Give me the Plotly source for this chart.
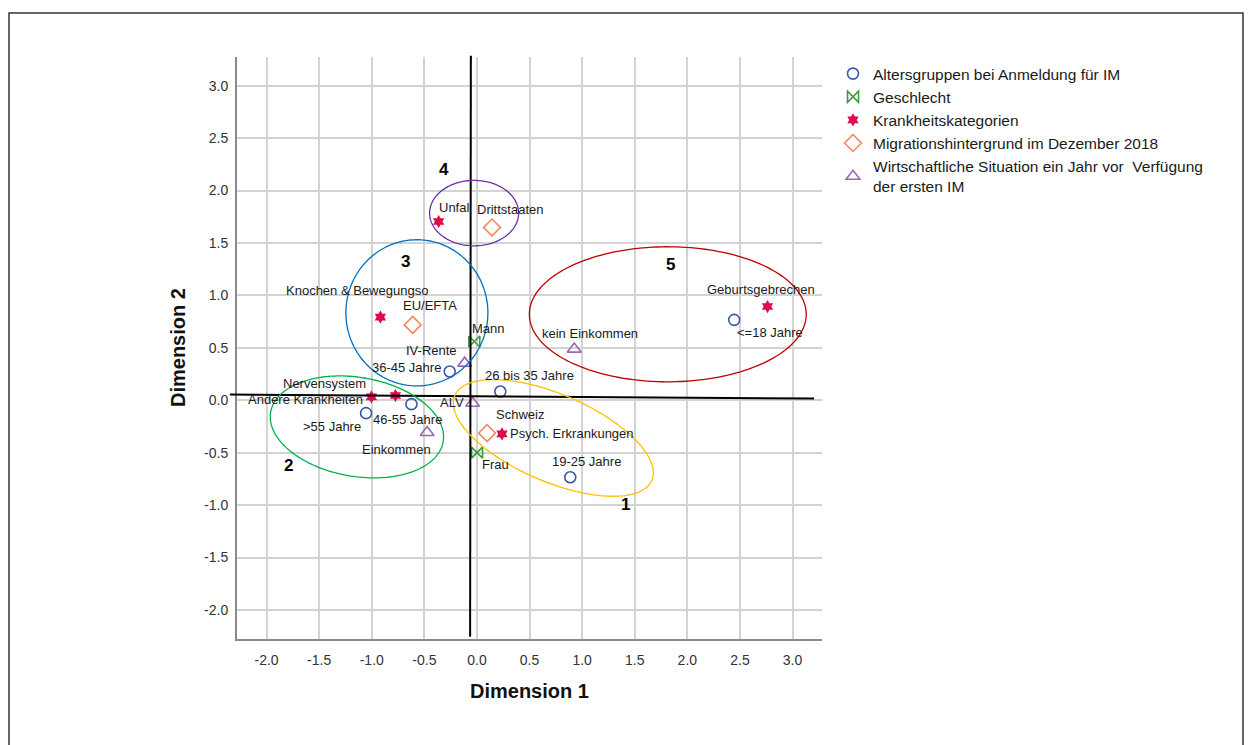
import numpy as np
import plotly.graph_objects as go

FONT = "Liberation Sans, Arial, sans-serif"

# ---------------- data ----------------
alters_labels = ["<=18 Jahre", "19-25 Jahre", "26 bis 35 Jahre", "36-45 Jahre", "46-55 Jahre", ">55 Jahre"]
alters_dim1 = [2.445, 0.887, 0.222, -0.259, -0.623, -1.054]
alters_dim2 = [0.767, -0.734, 0.083, 0.274, -0.037, -0.123]

geschlecht_labels = ["Mann", "Frau"]
geschlecht_dim1 = [-0.025, 0.001]
geschlecht_dim2 = [0.560, -0.499]

krank_labels = ["Geburtsgebrechen", "Unfal", "Knochen & Bewegungso", "Nervensystem",
                "Andere Krankheiten", "Psych. Erkrankungen"]
krank_dim1 = [2.762, -0.364, -0.918, -0.775, -1.003, 0.238]
krank_dim2 = [0.894, 1.705, 0.793, 0.045, 0.032, -0.321]

migration_labels = ["Drittstaaten", "EU/EFTA", "Schweiz"]
migration_dim1 = [0.143, -0.611, 0.096]
migration_dim2 = [1.648, 0.719, -0.314]

wirtschaft_labels = ["kein Einkommen", "IV-Rente", "ALV", "Einkommen"]
wirtschaft_dim1 = [0.925, -0.117, -0.041, -0.474]
wirtschaft_dim2 = [0.488, 0.354, -0.028, -0.308]

legend_names = [
    "Altersgruppen bei Anmeldung für IM",
    "Geschlecht",
    "Krankheitskategorien",
    "Migrationshintergrund im Dezember 2018",
    "Wirtschaftliche Situation ein Jahr vor  Verfügung<br>der ersten IM",
]

tick_values = [-2.0, -1.5, -1.0, -0.5, 0.0, 0.5, 1.0, 1.5, 2.0, 2.5, 3.0]
tick_labels = ["-2.0", "-1.5", "-1.0", "-0.5", "0.0", "0.5", "1.0", "1.5", "2.0", "2.5", "3.0"]

# cluster ellipses (data units): label, centre, radii, rotation
cluster_names = ["1", "2", "3", "4", "5"]
cluster_cx = [0.726, -1.141, -0.571, -0.027, 1.814]
cluster_cy = [-0.359, -0.254, 0.834, 1.785, 0.820]
cluster_rx = [1.020, 0.832, 0.675, 0.423, 1.316]
cluster_ry = [0.416, 0.472, 0.697, 0.312, 0.644]
cluster_angle = [-23.4, -9.8, 0.0, 0.0, 0.0]
cluster_label_x = [1.415, -1.789, -0.680, -0.316, 1.844]
cluster_label_y = [-0.998, -0.626, 1.321, 2.198, 1.292]

# ---------------- styling ----------------
X_RANGE = [-2.281, 3.28]
Y_RANGE = [-2.277, 3.274]
OFF = 8  # page body margin
W, H = 1252 - OFF, 745 - OFF
ML, MT = 237 - OFF, 57 - OFF
MR = W - (822 - OFF)
MB = H - (639 - OFF)
PW, PH = W - ML - MR, H - MT - MB

cluster_colors = ["#FFC000", "#00B050", "#0070C0", "#7030A0", "#C00000"]

# label offsets in pixels (dx right, dy down)
label_offsets = {
    "<=18 Jahre": (36, 13), "19-25 Jahre": (16, -16), "26 bis 35 Jahre": (29, -16),
    "36-45 Jahre": (-43, -4), "46-55 Jahre": (-4, 15), ">55 Jahre": (-34, 13),
    "Mann": (14, -13), "Frau": (18, 12),
    "Geburtsgebrechen": (-7, -17), "Unfal": (15, -14), "Knochen & Bewegungso": (-23, -27),
    "Nervensystem": (-71, -12), "Andere Krankheiten": (-66, 3), "Psych. Erkrankungen": (70, 0),
    "Drittstaaten": (18, -18), "EU/EFTA": (17, -19), "Schweiz": (33, -19),
    "kein Einkommen": (16, -16), "IV-Rente": (-33, -13), "ALV": (-21, -1), "Einkommen": (-31, 17),
}

series = [
    (alters_labels, alters_dim1, alters_dim2, dict(symbol="circle-open", size=11, color="#3B58A8", line=dict(width=1.6))),
    (geschlecht_labels, geschlecht_dim1, geschlecht_dim2, dict(symbol="bowtie-open", size=11, color="#3A9A3A", line=dict(width=1.6))),
    (krank_labels, krank_dim1, krank_dim2, dict(symbol="hexagram", size=10, color="#DE0B4F", line=dict(width=0))),
    (migration_labels, migration_dim1, migration_dim2, dict(symbol="diamond-open", size=13, color="#F4885C", line=dict(width=1.6))),
    (wirtschaft_labels, wirtschaft_dim1, wirtschaft_dim2, dict(symbol="triangle-up-open", size=12, color="#9A68B8", line=dict(width=1.6))),
]


def px_to_paper(px, py):
    """screen pixel -> paper coordinates"""
    fx, fy = px - OFF, py - OFF
    return (fx - ML) / PW, (MT + PH - fy) / PH


def data_to_paper(x, y):
    return ((x - X_RANGE[0]) / (X_RANGE[1] - X_RANGE[0]),
            (y - Y_RANGE[0]) / (Y_RANGE[1] - Y_RANGE[0]))


def ellipse_path(cx, cy, rx, ry, ang, n=180):
    t = np.linspace(0, 2 * np.pi, n)
    a = np.radians(ang)
    xs = cx + rx * np.cos(t) * np.cos(a) - ry * np.sin(t) * np.sin(a)
    ys = cy + rx * np.cos(t) * np.sin(a) + ry * np.sin(t) * np.cos(a)
    pts = [f"{x:.4f},{y:.4f}" for x, y in zip(xs, ys)]
    return "M " + " L ".join(pts) + " Z"


fig = go.Figure()
annotations = []
for (labels, xs, ys, marker), name in zip(series, legend_names):
    fig.add_trace(go.Scatter(x=xs, y=ys, mode="markers", name=name, marker=marker,
                             hovertext=labels, hoverinfo="text"))
    for lab, x, y in zip(labels, xs, ys):
        dx, dy = label_offsets[lab]
        annotations.append(dict(x=x, y=y, xref="x", yref="y", text=lab, showarrow=False,
                                xanchor="center", yanchor="middle",
                                xshift=dx, yshift=-dy, font=dict(family=FONT, size=13, color="#1a1a1a")))

shapes = []
# reference lines through the origin (hand drawn, slightly off)
hx0, hy0 = data_to_paper(-2.349, 0.054)
hx1, hy1 = data_to_paper(3.205, 0.016)
shapes.append(dict(type="line", xref="paper", yref="paper", x0=hx0, y0=hy0, x1=hx1, y1=hy1,
                   line=dict(color="black", width=2), layer="above"))
vx0, vy0 = data_to_paper(-0.058, 3.286)
vx1, vy1 = data_to_paper(-0.065, -2.255)
shapes.append(dict(type="line", xref="paper", yref="paper", x0=vx0, y0=vy0, x1=vx1, y1=vy1,
                   line=dict(color="black", width=2), layer="above"))

for name, cx, cy, rx, ry, ang, col, lx, ly in zip(cluster_names, cluster_cx, cluster_cy, cluster_rx,
                                                  cluster_ry, cluster_angle, cluster_colors,
                                                  cluster_label_x, cluster_label_y):
    shapes.append(dict(type="path", xref="x", yref="y", path=ellipse_path(cx, cy, rx, ry, ang),
                       line=dict(color=col, width=1.3), layer="above"))
    annotations.append(dict(x=lx, y=ly, xref="x", yref="y", text=f"<b>{name}</b>", showarrow=False,
                            xanchor="center", yanchor="middle",
                            font=dict(family=FONT, size=17, color="black")))

# outer frame
fx0, fy1 = px_to_paper(9, 13)
fx1, fy0 = px_to_paper(1243, 770)
shapes.append(dict(type="rect", xref="paper", yref="paper", x0=fx0, y0=fy0, x1=fx1, y1=fy1,
                   line=dict(color="#333333", width=1.5), layer="above"))

# axis titles
_, ty = px_to_paper(0, 691)
annotations.append(dict(x=0.5, y=ty, xref="paper", yref="paper", text="<b>Dimension 1</b>",
                        xanchor="center", yanchor="middle",
                        showarrow=False, font=dict(family=FONT, size=20, color="#111111")))
tx, _ = px_to_paper(178, 0)
annotations.append(dict(x=tx, y=0.5, xref="paper", yref="paper", text="<b>Dimension 2</b>",
                        xanchor="center", yanchor="middle",
                        textangle=-90, showarrow=False, font=dict(family=FONT, size=20, color="#111111")))

lx, ly = px_to_paper(833, 57)

axis_common = dict(showgrid=True, gridcolor="#d3d3d3", gridwidth=1.6, zeroline=False,
                   showline=True, linecolor="#8a8a8a", linewidth=2, ticks="",
                   tickmode="array", tickvals=tick_values, ticktext=tick_labels,
                   tickfont=dict(family=FONT, size=14, color="#333333"), fixedrange=True)

fig.update_layout(
    width=W, height=H,
    margin=dict(l=ML, r=MR, t=MT, b=MB, autoexpand=False),
    paper_bgcolor="white", plot_bgcolor="white",
    xaxis=dict(range=X_RANGE, ticklabelstandoff=7, **axis_common),
    yaxis=dict(range=Y_RANGE, ticklabelstandoff=4, **axis_common),
    showlegend=True,
    legend=dict(x=lx, y=ly, xanchor="left", yanchor="top", bgcolor="rgba(0,0,0,0)",
                font=dict(family=FONT, size=15.5, color="#1a1a1a"), tracegroupgap=0,
                itemwidth=30),
    shapes=shapes,
    annotations=annotations,
    font=dict(family=FONT),
)

fig.write_html("out.html")
